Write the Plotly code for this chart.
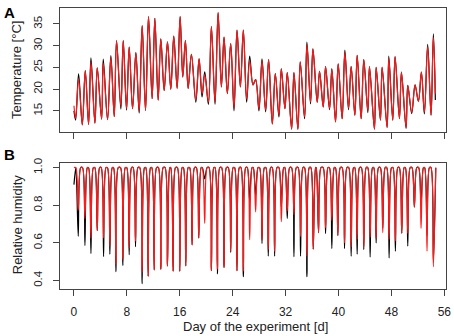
import plotly.graph_objects as go

# ---------------- data ----------------
# Temperature: daily maxima (time in days, value in °C)
temp_peak_t = [0.70, 1.71, 2.57, 3.52, 4.43, 5.58, 6.44, 7.45, 8.35, 9.36, 10.31, 11.27, 12.23,
               13.13, 14.14, 15.09, 16.05, 16.85, 17.76, 18.92, 19.77, 20.78, 21.79, 22.69, 23.70,
               24.65, 25.61, 26.57, 27.47, 28.43, 29.43, 30.44, 31.35, 32.25, 33.26, 34.21, 35.22,
               36.13, 37.13, 38.04, 38.99, 39.95, 40.96, 41.91, 42.82, 43.82, 44.68, 45.69, 46.59,
               47.60, 48.55, 49.51, 50.47, 51.57, 52.53, 53.48, 54.34]
temp_peak_red = [22.3, 24.3, 26.2, 24.9, 26.0, 27.3, 31.2, 31.2, 29.7, 28.4, 34.6, 36.7, 36.3,
                 31.6, 30.9, 32.2, 36.7, 31.2, 28.0, 27.0, 23.3, 34.4, 37.6, 32.0, 30.5,
                 33.6, 33.6, 26.5, 22.2, 26.5, 26.8, 23.6, 24.7, 23.8, 23.8, 26.3, 30.3,
                 29.3, 24.1, 25.2, 24.7, 25.8, 28.5, 25.2, 27.8, 26.8, 25.2, 25.0, 25.0,
                 27.2, 27.5, 23.9, 20.9, 21.0, 23.9, 29.8, 31.9]
temp_peak_black = [23.5, 24.3, 27.2, 24.9, 26.9, 27.7, 31.2, 31.2, 29.7, 28.4, 34.6, 36.7, 36.3,
                   31.6, 30.9, 32.2, 36.7, 31.2, 28.0, 27.0, 24.0, 34.4, 37.6, 32.0, 30.5,
                   33.6, 33.6, 27.6, 22.2, 27.0, 26.8, 23.6, 24.7, 23.8, 23.8, 26.3, 30.8,
                   29.3, 24.1, 25.2, 24.7, 25.8, 29.0, 25.2, 27.8, 26.8, 25.2, 25.0, 25.0,
                   27.6, 27.5, 23.9, 20.9, 21.0, 23.9, 30.3, 32.7]

# Temperature: daily minima (incl. first and last sample)
temp_min_t = [0.00, 0.25, 1.26, 2.21, 3.17, 4.18, 5.08, 6.09, 7.09, 7.95, 8.86, 9.86, 10.82,
              11.82, 12.73, 13.64, 14.64, 15.60, 16.45, 17.26, 18.42, 19.37, 20.33, 21.33, 22.29,
              23.19, 24.20, 25.16, 26.11, 27.07, 27.97, 28.98, 29.99, 30.99, 31.90, 32.91, 33.86,
              34.87, 35.77, 36.78, 37.69, 38.64, 39.55, 40.55, 41.51, 42.47, 43.42, 44.43, 45.43,
              46.34, 47.35, 48.20, 49.21, 50.21, 51.07, 52.08, 52.98, 53.99, 54.64]
temp_min_red = [16.2, 13.3, 11.8, 11.9, 12.2, 13.1, 13.0, 13.7, 16.0, 15.5, 15.5, 15.0, 15.1,
                17.8, 17.5, 19.7, 20.0, 20.2, 22.8, 20.2, 17.6, 18.9, 17.0, 17.0, 20.5,
                19.0, 15.6, 20.5, 17.7, 21.0, 15.5, 15.2, 12.0, 14.0, 15.5, 10.8, 10.8,
                13.6, 17.0, 17.0, 15.9, 15.6, 12.5, 13.2, 15.6, 14.0, 13.2, 15.0, 10.8,
                12.9, 11.2, 12.9, 13.2, 11.2, 14.7, 17.2, 14.7, 14.0, 19.0]
temp_min_black = [15.0, 12.9, 11.8, 11.9, 12.2, 13.1, 13.0, 13.7, 15.4, 15.2, 15.5, 14.5, 15.1,
                  17.8, 17.5, 19.7, 20.0, 20.2, 22.8, 20.2, 17.0, 18.2, 16.5, 16.5, 20.5,
                  19.0, 15.0, 20.5, 17.0, 21.0, 15.0, 14.8, 12.0, 13.6, 15.5, 10.8, 10.8,
                  13.2, 16.6, 17.0, 15.9, 15.3, 12.5, 13.2, 15.3, 14.0, 13.2, 14.6, 10.8,
                  12.9, 11.2, 12.9, 13.2, 11.0, 14.4, 17.2, 14.3, 14.0, 17.5]

# Relative humidity: daily minima (time in days, fraction); saturated (1.0) otherwise
rh_dip_t = [0.65, 1.66, 2.57, 3.52, 4.48, 5.43, 6.34, 7.40, 8.35, 9.31, 10.31, 11.22, 12.13,
            13.13, 14.14, 14.99, 16.00, 16.91, 17.86, 18.87, 19.77, 20.78, 21.69, 22.69, 23.70,
            24.65, 25.61, 26.57, 27.47, 28.43, 29.38, 30.34, 31.35, 32.25, 33.26, 34.26, 35.22,
            36.18, 36.98, 38.04, 38.99, 39.90, 40.91, 41.91, 42.82, 43.82, 44.78, 45.69, 46.69,
            47.65, 48.60, 49.56, 50.47, 51.47, 52.48, 53.38, 54.34]
rh_dip_red = [0.774, 0.730, 0.626, 0.666, 0.626, 0.583, 0.487, 0.513, 0.574, 0.609, 0.443, 0.423, 0.457,
              0.460, 0.478, 0.450, 0.450, 0.478, 0.590, 0.626, 0.704, 0.452, 0.460, 0.470, 0.556,
              0.452, 0.450, 0.617, 0.765, 0.617, 0.565, 0.555, 0.713, 0.770, 0.750, 0.635, 0.530,
              0.567, 0.655, 0.680, 0.720, 0.640, 0.600, 0.580, 0.620, 0.580, 0.630, 0.625, 0.655,
              0.620, 0.610, 0.652, 0.652, 0.790, 0.678, 0.556, 0.473]
rh_dip_black = [0.635, 0.586, 0.544, 0.666, 0.527, 0.540, 0.447, 0.480, 0.537, 0.580, 0.383, 0.423, 0.457,
                0.460, 0.478, 0.450, 0.450, 0.478, 0.590, 0.626, 0.940, 0.452, 0.435, 0.470, 0.550,
                0.452, 0.420, 0.820, 0.850, 0.597, 0.530, 0.530, 0.790, 0.730, 0.527, 0.530, 0.420,
                0.567, 0.655, 0.650, 0.570, 0.640, 0.570, 0.530, 0.540, 0.565, 0.525, 0.600, 0.680,
                0.520, 0.556, 0.652, 0.583, 0.790, 0.800, 0.640, 0.500]
rh_start_red = 1.0
rh_start_black = 0.91
RH_SAT = 1.0

x_ticks = [0, 8, 16, 24, 32, 40, 48, 56]
temp_ticks = [15, 20, 25, 30, 35]
rh_ticks = [0.4, 0.6, 0.8, 1.0]
rh_tick_text = ["0.4", "0.6", "0.8", "1.0"]

# ---------------- build series ----------------
def merge(t1, v1, t2, v2):
    pts = sorted(zip(t1 + t2, v1 + v2))
    return [p[0] for p in pts], [p[1] for p in pts]

tr_x, tr_y = merge(temp_min_t, temp_min_red, temp_peak_t, temp_peak_red)
tb_x, tb_y = merge(temp_min_t, temp_min_black, temp_peak_t, temp_peak_black)

HW = 0.36  # half width of a daily humidity dip (days)
def rh_series(start, mins):
    xs, ys = [0.0], [start]
    for t, v in zip(rh_dip_t, mins):
        xs += [t - HW, t, t + HW]
        ys += [RH_SAT, v, RH_SAT]
    return xs, ys

hr_x, hr_y = rh_series(rh_start_red, rh_dip_red)
hb_x, hb_y = rh_series(rh_start_black, rh_dip_black)

RED = "#ff1a1a"
BLK = "black"
LW = 1.2

fig = go.Figure()
fig.add_trace(go.Scatter(x=tb_x, y=tb_y, mode="lines", line=dict(color=BLK, width=LW, shape="spline", smoothing=1.0),
                         xaxis="x", yaxis="y", showlegend=False, hoverinfo="skip"))
fig.add_trace(go.Scatter(x=tr_x, y=tr_y, mode="lines", line=dict(color=RED, width=LW, shape="spline", smoothing=1.0),
                         xaxis="x", yaxis="y", showlegend=False, hoverinfo="skip"))
fig.add_trace(go.Scatter(x=hb_x, y=hb_y, mode="lines", line=dict(color=BLK, width=LW, shape="spline", smoothing=0.8),
                         xaxis="x2", yaxis="y2", showlegend=False, hoverinfo="skip"))
fig.add_trace(go.Scatter(x=hr_x, y=hr_y, mode="lines", line=dict(color=RED, width=LW, shape="spline", smoothing=0.8),
                         xaxis="x2", yaxis="y2", showlegend=False, hoverinfo="skip"))

W, H = 454, 336
ML, MR, MT, MB = 60, 7, 3, 47
PW, PH = W - ML - MR, H - MT - MB

def py(pix_y):  # pixel y -> paper y
    return (H - MB - pix_y) / PH

def px(pix_x):
    return (pix_x - ML) / PW

FONT = "Liberation Sans, Arial, sans-serif"
AX_COL = "#444"

common_x = dict(range=[-2.11, 56.25], tickvals=x_ticks, ticks="outside", ticklen=6, tickwidth=1,
                tickcolor=AX_COL, showline=True, linecolor=AX_COL, linewidth=1, mirror=True,
                showgrid=False, zeroline=False, tickfont=dict(size=12, color="#222", family=FONT))

fig.update_layout(
    width=W, height=H,
    margin=dict(l=ML, r=MR, t=MT, b=MB),
    paper_bgcolor="white", plot_bgcolor="white",
    font=dict(family=FONT, color="#222"),
    xaxis=dict(domain=[0, 1], anchor="y", showticklabels=False, **common_x),
    xaxis2=dict(domain=[0, 1], anchor="y2", showticklabels=True, ticklabelstandoff=6, **common_x),
    yaxis=dict(domain=[py(129.3), 1], anchor="x", range=[10.13, 38.67], tickvals=temp_ticks,
               ticks="outside", ticklen=6, tickcolor=AX_COL, showline=True, linecolor=AX_COL,
               linewidth=1, mirror=True, showgrid=False, zeroline=False, tickangle=-90,
               ticklabelstandoff=6, tickfont=dict(size=11.5, color="#222", family=FONT)),
    yaxis2=dict(domain=[0, py(160.5)], anchor="x2", range=[0.355, 1.026], tickvals=rh_ticks,
                ticktext=rh_tick_text, ticks="outside", ticklen=6, tickcolor=AX_COL, showline=True,
                linecolor=AX_COL, linewidth=1, mirror=True, showgrid=False, zeroline=False,
                tickangle=-90, ticklabelstandoff=6, tickfont=dict(size=11.5, color="#222", family=FONT)),
    annotations=[
        dict(text="Temperature [°C]", x=px(17), y=py(66), xref="paper", yref="paper", textangle=-90,
             showarrow=False, font=dict(size=13, color="#222", family=FONT), xanchor="center", yanchor="middle"),
        dict(text="Relative humidity", x=px(17), y=py(224), xref="paper", yref="paper", textangle=-90,
             showarrow=False, font=dict(size=13, color="#222", family=FONT), xanchor="center", yanchor="middle"),
        dict(text="Day of the experiment [d]", x=px(256), y=py(327), xref="paper", yref="paper",
             showarrow=False, font=dict(size=13, color="#222", family=FONT), xanchor="center", yanchor="middle"),
        dict(text="<b>A</b>", x=px(9), y=py(8), xref="paper", yref="paper", showarrow=False,
             font=dict(size=15, color="black", family=FONT), xanchor="center", yanchor="middle"),
        dict(text="<b>B</b>", x=px(9), y=py(152), xref="paper", yref="paper", showarrow=False,
             font=dict(size=15, color="black", family=FONT), xanchor="center", yanchor="middle"),
    ],
)

fig.write_html("out.html", config={"displayModeBar": False, "staticPlot": True},
               post_script="document.body.style.margin='0';document.body.style.overflow='hidden';")
